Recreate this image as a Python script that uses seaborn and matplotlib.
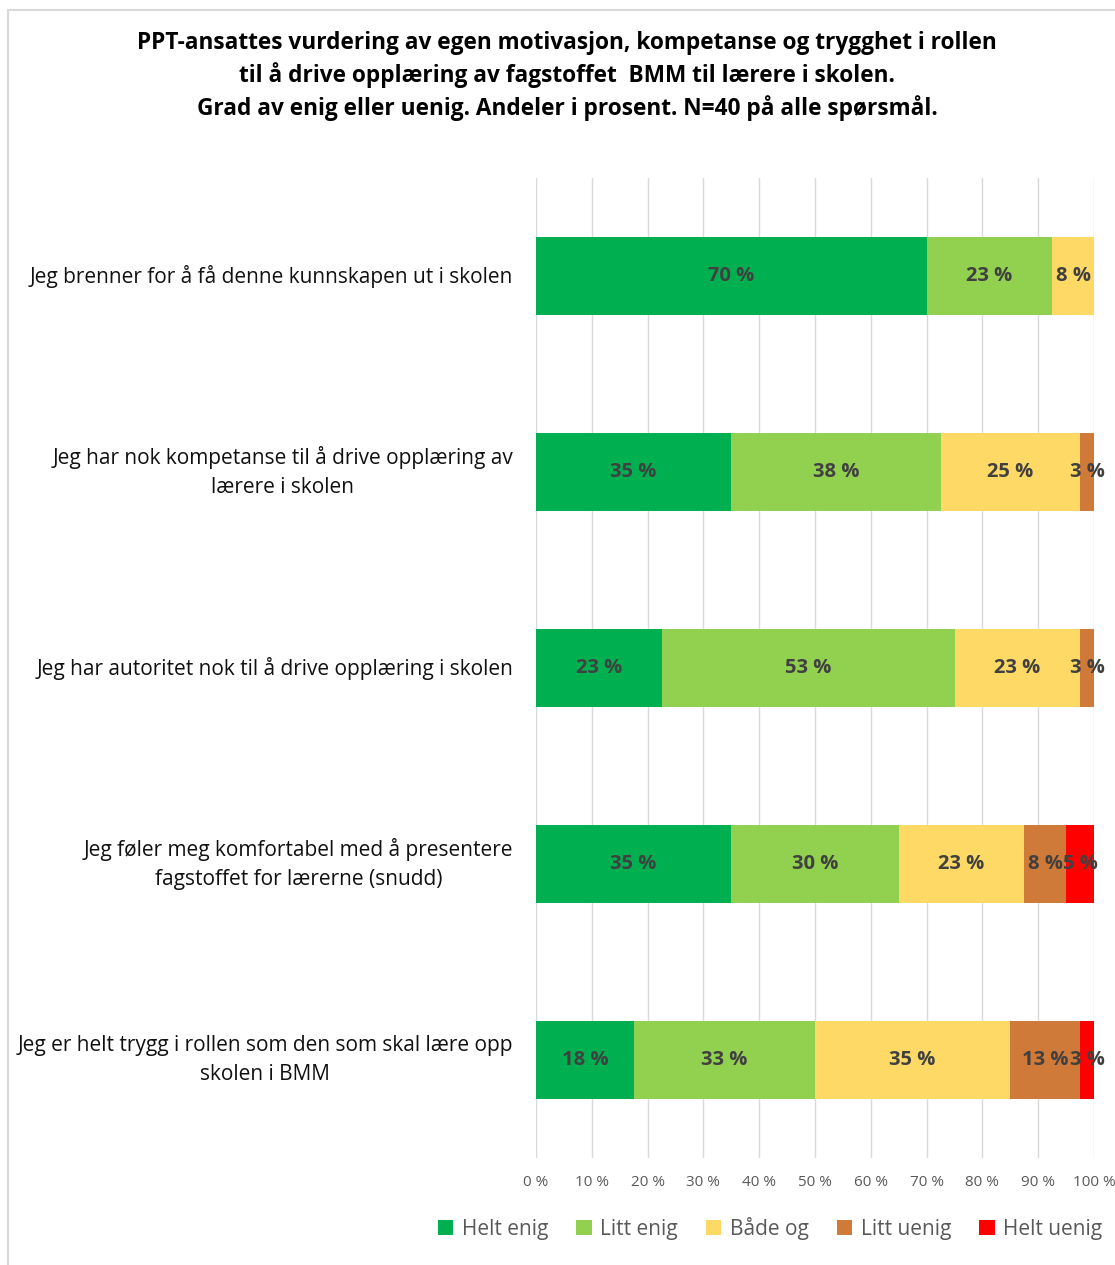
import math
import matplotlib
matplotlib.use("Agg")
import matplotlib.pyplot as plt
from matplotlib.patches import Rectangle, Patch
import numpy as np
import pandas as pd
import seaborn as sns

# Survey statements (top to bottom)
questions = [
    "Jeg brenner for å få denne kunnskapen ut i skolen",
    "Jeg har nok kompetanse til å drive opplæring av\nlærere i skolen",
    "Jeg har autoritet nok til å drive opplæring i skolen",
    "Jeg føler meg komfortabel med å presentere\nfagstoffet for lærerne (snudd)",
    "Jeg er helt trygg i rollen som den som skal lære opp\nskolen i BMM",
]

categories = ["Helt enig", "Litt enig", "Både og", "Litt uenig", "Helt uenig"]
colors = ["#00B050", "#92D050", "#FFD966", "#D07A3A", "#FF0000"]

# Shares in percent (N=40)
helt_enig = [70.0, 35.0, 22.5, 35.0, 17.5]
litt_enig = [22.5, 37.5, 52.5, 30.0, 32.5]
baade_og = [7.5, 25.0, 22.5, 22.5, 35.0]
litt_uenig = [0.0, 2.5, 2.5, 7.5, 12.5]
helt_uenig = [0.0, 0.0, 0.0, 5.0, 2.5]

xticks = [0, 10, 20, 30, 40, 50, 60, 70, 80, 90, 100]

series = [helt_enig, litt_enig, baade_og, litt_uenig, helt_uenig]
df = pd.DataFrame({c: v for c, v in zip(categories, series)})
df["question"] = questions
cum = df[categories].cumsum(axis=1)

sns.set_theme(style="white")
plt.rcParams["font.family"] = ["Open Sans", "DejaVu Sans"]

W, H = 1115, 1265
fig = plt.figure(figsize=(W / 100, H / 100), dpi=100)
ax = fig.add_axes([536 / W, 1 - 1158 / H, 558 / W, 980 / H])

# light frame around the chart area
fig.patches.append(Rectangle((8 / W, -0.01), 1.2, 1 - 10 / H + 0.01,
                             transform=fig.transFigure, fill=False,
                             edgecolor="#D9D9D9", linewidth=1.5))

# vertical gridlines
for t in xticks:
    ax.axvline(t, color="#D9D9D9", linewidth=1, zorder=0)

# stacked bars: draw cumulative totals from the last segment backwards
for cat, col in reversed(list(zip(categories, colors))):
    sns.barplot(x=cum[cat], y=df["question"], orient="h", color=col,
                width=0.4, ax=ax, zorder=2, saturation=1, edgecolor="none")

# value labels centred in each segment
def fmt(v):
    return f"{int(math.floor(v + 0.5))} %"

for i in range(len(questions)):
    start = 0.0
    for cat in categories:
        v = df.loc[i, cat]
        if v > 0:
            ax.text(start + v / 2, i, fmt(v), ha="center", va="center",
                    fontsize=14.5, fontweight="bold", color="#404040", zorder=3)
        start += v

ax.set_xlim(0, 100)
ax.set_ylim(4.5, -0.5)
ax.set_xticks(xticks)
ax.set_xticklabels([f"{t} %" for t in xticks], fontsize=11, color="#595959")
ax.tick_params(axis="x", length=0, pad=12)
ax.tick_params(axis="y", length=0, pad=16.5)
ax.set_yticks(range(len(questions)))
ax.set_yticklabels(questions, fontsize=15, color="#111111", multialignment="center",
                   linespacing=1.55, va="center")
ax.set_xlabel("")
ax.set_ylabel("")
for s in ax.spines.values():
    s.set_visible(False)

fig.text(567 / W, 1 - 76 / H,
         "PPT-ansattes vurdering av egen motivasjon, kompetanse og trygghet i rollen\n"
         "til å drive opplæring av fagstoffet  BMM til lærere i skolen.\n"
         "Grad av enig eller uenig. Andeler i prosent. N=40 på alle spørsmål.",
         ha="center", va="center", fontsize=16.3, fontweight="bold", color="#000000",
         linespacing=1.38)

handles = [Patch(facecolor=c, edgecolor="none") for c in colors]
fig.legend(handles, categories, loc="center", bbox_to_anchor=(770 / W, 1 - 1228 / H),
           ncol=5, frameon=False, fontsize=15, labelcolor="#595959",
           handlelength=0.75, handleheight=0.75, handletextpad=0.4, columnspacing=1.35)

fig.savefig("out.png", dpi=100, facecolor="white")
